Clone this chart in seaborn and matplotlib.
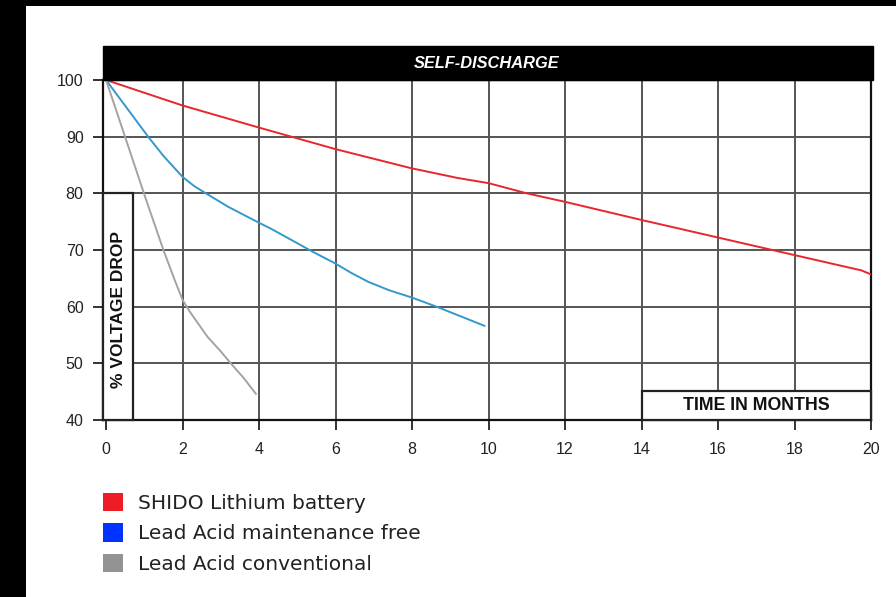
import numpy as np
import pandas as pd
import matplotlib
matplotlib.use("Agg")
import matplotlib.pyplot as plt
import seaborn as sns
from matplotlib.patches import Rectangle, Patch
from matplotlib.transforms import blended_transform_factory

# data
lithium_x = [0, 2, 4, 5, 6, 8, 9.2, 10, 11, 12, 14, 16, 18, 19.75, 20]
lithium_y = [100, 95.5, 91.6, 89.7, 87.8, 84.4, 82.7, 81.8, 80.0, 78.5, 75.3, 72.2, 69.1, 66.4, 65.7]

mf_x = [0, 1.1, 1.5, 2, 2.3, 2.56, 3.2, 4, 4.3, 5, 5.4, 6, 6.4, 6.85, 7.4, 8, 8.64, 9.9]
mf_y = [100, 90, 86.6, 82.9, 81.3, 80.2, 77.6, 74.8, 73.8, 71.2, 69.7, 67.6, 66.0, 64.4, 62.9, 61.6, 60.0, 56.6]

conv_x = [0, 1, 1.5, 1.8, 2, 2.2, 2.4, 2.65, 3.0, 3.26, 3.6, 3.92]
conv_y = [100, 79.8, 70, 64.6, 61.2, 59.0, 57.1, 54.7, 52.1, 50.0, 47.4, 44.6]

series_names = ["SHIDO Lithium battery", "Lead Acid maintenance free", "Lead Acid conventional"]
line_colors = ["#e8262d", "#3399cc", "#a3a3a3"]
legend_colors = ["#ee1c25", "#0033ff", "#939393"]

x_ticks = list(range(0, 21, 2))
y_ticks = list(range(40, 101, 10))

df = pd.concat([
    pd.DataFrame({"month": lithium_x, "voltage": lithium_y, "type": series_names[0]}),
    pd.DataFrame({"month": mf_x, "voltage": mf_y, "type": series_names[1]}),
    pd.DataFrame({"month": conv_x, "voltage": conv_y, "type": series_names[2]}),
])

sns.set_theme(style="white")
plt.rcParams["font.family"] = ["Liberation Sans", "DejaVu Sans"]

fig = plt.figure(figsize=(8.96, 5.97), dpi=100)
fig.patch.set_facecolor("white")
# black frame bands at left / top
fig.patches.append(Rectangle((0, 0), 26 / 896, 1, transform=fig.transFigure,
                             facecolor="black", edgecolor="none", zorder=0))
fig.patches.append(Rectangle((0, 1 - 6 / 597), 1, 6 / 597, transform=fig.transFigure,
                             facecolor="black", edgecolor="none", zorder=0))

ax = fig.add_axes([103 / 896, 1 - 420 / 597, 768 / 896, 340 / 597])

sns.lineplot(data=df, x="month", y="voltage", hue="type", palette=line_colors,
             hue_order=series_names, linewidth=1.4, ax=ax, legend=False, zorder=5,
             sort=False, estimator=None)

ax.set_xlim(-0.08, 20)
ax.set_ylim(40, 100)
ax.set_xticks(x_ticks)
ax.set_yticks(y_ticks)
ax.grid(True, color="#555555", linewidth=1.4, zorder=1)
ax.xaxis.get_gridlines()[0].set_visible(False)
ax.set_axisbelow(True)
for s in ax.spines.values():
    s.set_color("#111111")
    s.set_linewidth(1.6)
ax.tick_params(axis="both", direction="out", length=7, width=1.4, color="#333333",
               labelsize=11.5, labelcolor="#222222", pad=7)
ax.tick_params(axis="x", pad=9)
ax.tick_params(bottom=True, left=True)
ax.set_xlabel("")
ax.set_ylabel("")

# title bar
ax.add_patch(Rectangle((0, 1), 1.002, 0.1, transform=ax.transAxes, facecolor="black",
                       edgecolor="black", clip_on=False, zorder=6))
ax.text(0.5, 1.05, "SELF-DISCHARGE", transform=ax.transAxes, color="white",
        fontsize=11.8, fontweight="bold", fontstyle="italic", ha="center", va="center", zorder=7)

# y label box
tr = blended_transform_factory(ax.transAxes, ax.transData)
ax.add_patch(Rectangle((0, 40), 30 / 768, 40, transform=tr, facecolor="white",
                       edgecolor="#222222", linewidth=1.6, zorder=3, clip_on=False))
ax.text(15 / 768, 59.5, "% VOLTAGE DROP", transform=tr, rotation=90, fontsize=12.5,
        fontweight="bold", color="#111111", ha="center", va="center", zorder=4)

# x label box
ax.add_patch(Rectangle((14, 40), 6, 5.1, facecolor="white", edgecolor="#222222",
                       linewidth=1.6, zorder=3, clip_on=False))
ax.text(17, 42.6, "TIME IN MONTHS", fontsize=12.8, fontweight="bold", color="#111111",
        ha="center", va="center", zorder=4)

handles = [Patch(facecolor=c, edgecolor="none") for c in legend_colors]
fig.legend(handles, series_names, loc="upper left", bbox_to_anchor=(87 / 896, 1 - 477 / 597),
           frameon=False, handlelength=1.0, handleheight=1.0,
           handletextpad=0.72, labelspacing=0.52, borderpad=0.3,
           prop={"family": ["DejaVu Sans"], "size": 14.5})
for t in fig.legends[0].get_texts():
    t.set_color("#222222")

fig.savefig("out.png", dpi=100, facecolor="white")
